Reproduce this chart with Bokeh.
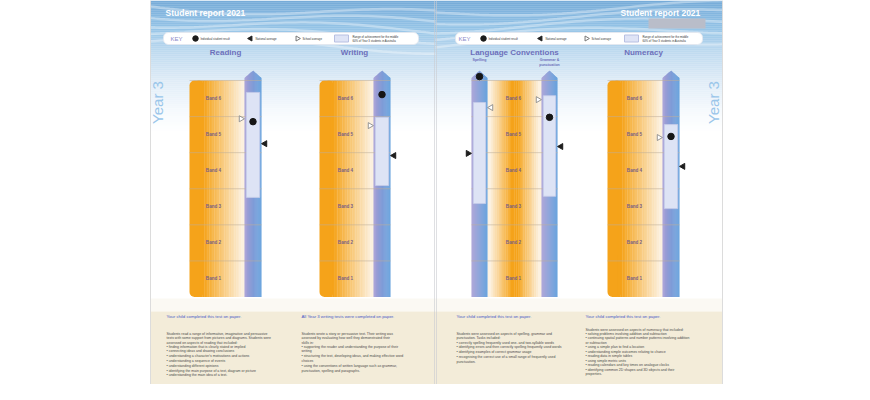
import numpy as np
from bokeh.plotting import figure
from bokeh.models import Range1d
from bokeh.embed import file_html
from bokeh.resources import INLINE
from bokeh.core.properties import value

# ---------------- data (band scale: 0 = bottom of Band 1, 6 = top of Band 6)
subjects = ["Reading", "Writing", "Spelling", "Grammar & punctuation", "Numeracy"]
student_result = [4.86, 5.61, 6.11, 4.98, 4.45]
school_average = [4.94, 4.75, 5.25, 5.47, 4.42]
national_average = [4.25, 3.92, 3.98, 4.17, 3.62]
middle60_low = [2.76, 3.09, 2.59, 2.79, 2.45]
middle60_high = [5.67, 4.98, 5.39, 5.58, 4.78]
band_labels = ["Band 1", "Band 2", "Band 3", "Band 4", "Band 5", "Band 6"]
band_values = [0.5, 1.5, 2.5, 3.5, 4.5, 5.5]
band_edges = [1, 2, 3, 4, 5, 6]

key_labels = ["Individual student result", "National average", "School average",
              "Range of achievement for the middle\n60% of Year 3 students in Australia"]

reading_head = "Your child completed this test on paper."
reading_para = ("Students read a range of informative, imaginative and persuasive\n"
                "texts with some support from pictures and diagrams. Students were\n"
                "assessed on aspects of reading that included:")
reading_bullets = ["finding information that is clearly stated or implied",
                   "connecting ideas and drawing conclusions",
                   "understanding a character's motivations and actions",
                   "understanding a sequence of events",
                   "understanding different opinions",
                   "identifying the main purpose of a text, diagram or picture",
                   "understanding the main idea of a text."]
writing_head = "All Year 3 writing tests were completed on paper."
writing_para = ("Students wrote a story or persuasive text. Their writing was\n"
                "assessed by evaluating how well they demonstrated their\n"
                "skills in:")
writing_bullets = ["supporting the reader and understanding the purpose of their\n   writing",
                   "structuring the text, developing ideas, and making effective word\n   choices",
                   "using the conventions of written language such as grammar,\n   punctuation, spelling and paragraphs."]
lang_head = "Your child completed this test on paper."
lang_para = ("Students were assessed on aspects of spelling, grammar and\n"
             "punctuation. Tasks included:")
lang_bullets = ["correctly spelling frequently used one- and two-syllable words",
                "identifying errors and then correctly spelling frequently used words",
                "identifying examples of correct grammar usage",
                "recognising the correct use of a small range of frequently used\n   punctuation."]
num_head = "Your child completed this test on paper."
num_para = "Students were assessed on aspects of numeracy that included:"
num_bullets = ["solving problems involving addition and subtraction",
               "continuing spatial patterns and number patterns involving addition\n   or subtraction",
               "using a simple plan to find a location",
               "understanding simple outcomes relating to chance",
               "reading data in simple tables",
               "using simple metric units",
               "reading calendars and key times on analogue clocks",
               "identifying common 2D shapes and 3D objects and their\n   properties."]

# ---------------- layout (pixel x, band-unit y)
BAND_PX = 36.08
BASE_PX = 296.5


def Y(py):
    return (BASE_PX - py) / BAND_PX


bar_left = [244, 373, 471, 541, 662]
bar_right = [261, 390, 487, 557, 679]
school_side = [-1, -1, 1, -1, -1]     # -1 = left of bar, pointing right
national_side = [1, 1, -1, 1, 1]
FONT = value("Liberation Sans")

p = figure(width=854, height=384, x_range=Range1d(0, 854), y_range=Range1d(Y(384), Y(0)),
           output_backend="svg", toolbar_location=None, min_border=0)
p.axis.visible = False
p.grid.visible = False
p.outline_line_color = None
p.background_fill_color = "white"
p.border_fill_color = "white"


def mix(c0, c1, t):
    t = min(max(t, 0.0), 1.0)
    return "#%02x%02x%02x" % tuple(int(round(a + (b - a) * t)) for a, b in zip(c0, c1))


# ---- sky gradient
stops = [(0, (118, 171, 216)), (25, (146, 194, 230)), (50, (190, 218, 239)),
         (80, (224, 236, 247)), (110, (246, 250, 253)), (130, (255, 255, 255))]
ys = np.arange(0, 130, 2)
cols = []
for yy in ys:
    for (a, ca), (b, cb) in zip(stops[:-1], stops[1:]):
        if a <= yy < b:
            cols.append(mix(ca, cb, (yy - a) / (b - a)))
            break
p.quad(left=150, right=722, top=[Y(v) for v in ys], bottom=[Y(v + 2.2) for v in ys],
       fill_color=cols, line_color=None)

# decorative waves in the sky
xs_l = np.linspace(150, 435, 60)
xs_r = np.linspace(435, 722, 60)
wx, wy = [], []
for base, ph in [(6, 0.0), (14, 0.8), (22, 1.6), (30, 2.4), (40, 3.0)]:
    wx.append(list(xs_l))
    wy.append([Y(base + 5 * np.sin((x - 150) / 55 + ph) + (x - 150) * 0.03) for x in xs_l])
    wx.append(list(xs_r))
    wy.append([Y(base + 5 * np.sin((x - 435) / 60 + ph) - (x - 435) * 0.025 + 6) for x in xs_r])
p.multi_line(wx, wy, line_color="white", line_alpha=0.35, line_width=2.5)

# bottom beige area
p.quad(left=150, right=722, top=Y(298), bottom=Y(311), fill_color="#fbf9f3", line_color=None)
p.quad(left=150, right=722, top=Y(311), bottom=Y(400), fill_color="#f3ecd9", line_color=None)

# page edges / fold
p.segment(x0=[722, 150], y0=[Y(0)] * 2, x1=[722, 150], y1=[Y(400)] * 2, line_color="#dcdcdc", line_width=1)
p.segment(x0=[434, 436], y0=[Y(0)] * 2, x1=[434, 436], y1=[Y(400)] * 2, line_color="#c9cbd0",
          line_alpha=0.6, line_width=1)

# titles
p.text(x=[165], y=[Y(12)], text=["Student report 2021"], text_font=FONT, text_font_style="bold",
       text_font_size="8.5px", text_color="white", text_align="left", text_baseline="middle")
p.text(x=[620], y=[Y(12)], text=["Student report 2021"], text_font=FONT, text_font_style="bold",
       text_font_size="8.5px", text_color="white", text_align="left", text_baseline="middle")
p.quad(left=648, right=705, top=Y(18), bottom=Y(28), fill_color="#b9bdc9", line_color=None)

# Year 3 side labels
p.text(x=[157, 713], y=[Y(102), Y(102)], text=["Year 3", "Year 3"], angle=np.pi / 2, text_font=FONT,
       text_font_size="15px", text_color="#9ac6ea", text_align="center", text_baseline="middle")

# KEY bars
for kl, kr in [(163, 418), (455, 702)]:
    p.quad(left=kl, right=kr, top=Y(32), bottom=Y(44), fill_color="white", line_color="#e3e8f0",
           border_radius=5)
for kx, dx, nx, sx, bx in [(170, 195, 250, 297, 334), (458, 483, 540, 586, 624)]:
    p.text(x=[kx], y=[Y(38)], text=["KEY"], text_font=FONT, text_font_size="6px", text_color="#8b88c8",
           text_align="left", text_baseline="middle")
    p.scatter(x=[dx], y=[Y(38)], marker="circle", size=5.5, fill_color="#1b1b1b", line_color="#1b1b1b")
    p.scatter(x=[nx], y=[Y(38)], marker="triangle", angle=np.pi / 2, size=5, fill_color="#222",
              line_color="#222")
    p.scatter(x=[sx], y=[Y(38)], marker="triangle", angle=-np.pi / 2, size=5, fill_color="white",
              line_color="#777")
    p.quad(left=bx, right=bx + 14, top=Y(34.5), bottom=Y(41.5), fill_color="#dfe4f6", line_color="#b8c0e2")
    p.text(x=[dx + 5, nx + 5, sx + 5, bx + 18], y=[Y(38)] * 4, text=key_labels, text_font=FONT,
           text_font_size="2.8px", text_color="#333", text_align="left", text_baseline="middle",
           text_line_height=1.3)

# subject titles
p.text(x=[225, 354, 514, 643], y=[Y(51.5)] * 4, text=["Reading", "Writing", "Language Conventions", "Numeracy"],
       text_font=FONT, text_font_style="bold", text_font_size="8px", text_color="#6d70bb",
       text_align="center", text_baseline="middle")
p.text(x=[479, 549, 549], y=[Y(59.5), Y(59.5), Y(64)], text=["Spelling", "Grammar &", "punctuation"],
       text_font=FONT, text_font_style="bold", text_font_size="3.6px", text_color="#6d70bb",
       text_align="center", text_baseline="middle")

ORANGE = (245, 163, 26)
PALE = (252, 241, 224)


def orange_box(x0, x1):
    # rounded left part + horizontal gradient to pale
    p.quad(left=x0, right=x0 + 14, top=6, bottom=0, fill_color=mix(ORANGE, PALE, 0), line_color=None,
           border_radius=5)
    n = 28
    edges = np.linspace(x0 + 8, x1, n + 1)
    cs = [mix(ORANGE, PALE, ((a + b) / 2 - (x0 + 14)) / (x1 - x0 - 16)) for a, b in zip(edges[:-1], edges[1:])]
    p.quad(left=edges[:-1], right=edges[1:] + 0.3, top=6, bottom=0, fill_color=cs, line_color=None)


def center_box(x0, x1):
    n = 30
    edges = np.linspace(x0, x1, n + 1)
    mid = (x0 + x1) / 2
    half = (x1 - x0) / 2
    cs = [mix(ORANGE, PALE, (abs((a + b) / 2 - mid) / half - 0.1) / 0.8) for a, b in zip(edges[:-1], edges[1:])]
    p.quad(left=edges[:-1], right=edges[1:] + 0.3, top=6, bottom=0, fill_color=cs, line_color=None)


LAV = (168, 157, 212)
BLUE = (88, 154, 218)
SHOULDER = Y(77.5)
APEX = Y(70)


def scale_bar(x0, x1):
    n = 16
    edges = np.linspace(x0, x1, n + 1)
    mid = (x0 + x1) / 2
    half = (x1 - x0) / 2

    def top(x):
        return SHOULDER + (APEX - SHOULDER) * (1 - abs(x - mid) / half)

    pxs, pys, cs = [], [], []
    for a, b in zip(edges[:-1], edges[1:]):
        bb = b + 0.3 if b < x1 else b
        pxs.append([a, bb, bb, a])
        pys.append([0, 0, top(min(bb, x1)), top(a)])
        cs.append(mix(LAV, BLUE, ((a + b) / 2 - x0) / (x1 - x0)))
    p.patches(pxs, pys, fill_color=cs, line_color=None)


orange_box(189, 244)
orange_box(319, 373)
orange_box(607, 662)
center_box(487, 541)
for bl, br in zip(bar_left, bar_right):
    scale_bar(bl, br)

# band divider lines and labels
groups = [(189, 261, 213), (319, 390, 345), (471, 557, 513), (607, 679, 634)]
for gx0, gx1, lx in groups:
    p.segment(x0=[gx0] * len(band_edges), x1=[gx1] * len(band_edges), y0=band_edges, y1=band_edges,
              line_color="#bfae98", line_width=0.7, line_alpha=0.8)
    p.text(x=[lx] * 6, y=band_values, text=band_labels, text_font=FONT, text_font_style="bold",
           text_font_size="4.6px", text_color="#7a5f85", text_align="center", text_baseline="middle")

# middle 60% ranges
p.quad(left=[b + 1.8 for b in bar_left], right=[b - 1.8 for b in bar_right], top=middle60_high,
       bottom=middle60_low, fill_color="#dde3f5", line_color="#c5cce9", line_width=0.8)

# markers
p.scatter(x=[(l + r) / 2 for l, r in zip(bar_left, bar_right)], y=student_result, marker="circle", size=6.5,
          fill_color="#161616", line_color="#161616")
sx = [(l - 3.5) if s < 0 else (r + 3.5) for l, r, s in zip(bar_left, bar_right, school_side)]
sang = [-np.pi / 2 if s < 0 else np.pi / 2 for s in school_side]
p.scatter(x=sx, y=school_average, marker="triangle", angle=sang, size=6, fill_color="white",
          line_color="#8a8a8a", line_width=0.9)
nx = [(l - 3.5) if s < 0 else (r + 3.5) for l, r, s in zip(bar_left, bar_right, national_side)]
nang = [-np.pi / 2 if s < 0 else np.pi / 2 for s in national_side]
p.scatter(x=nx, y=national_average, marker="triangle", angle=nang, size=6, fill_color="#1e1e1e",
          line_color="#1e1e1e")

# bottom text blocks: (x, heading, paragraph, bullets, paragraph lines, paragraph top, line height)
HEAD_C = "#4658c6"
BODY_C = "#4a4a4a"
FS = 3.5
blocks = [(166, reading_head, reading_para, reading_bullets, 3, 331, 1.2),
          (301, writing_head, writing_para, writing_bullets, 3, 331, 1.2),
          (456, lang_head, lang_para, lang_bullets, 2, 331, 1.2),
          (585, num_head, num_para, num_bullets, 1, 327, 1.12)]
for bx, head, para, bullets, nlines, ptop, lh in blocks:
    p.text(x=[bx], y=[Y(316)], text=[head], text_font=FONT, text_font_size="4.3px", text_color=HEAD_C,
           text_align="left", text_baseline="middle")
    p.text(x=[bx], y=[Y(ptop)], text=[para], text_font=FONT, text_font_size=f"{FS}px", text_color=BODY_C,
           text_align="left", text_baseline="top", text_line_height=lh)
    btxt = "\n".join("\u2022  " + b for b in bullets)
    p.text(x=[bx], y=[Y(ptop + nlines * FS * lh + 0.6)], text=[btxt], text_font=FONT,
           text_font_size=f"{FS}px", text_color=BODY_C, text_align="left", text_baseline="top",
           text_line_height=lh)

open("out.html", "w").write(file_html(p, INLINE))
